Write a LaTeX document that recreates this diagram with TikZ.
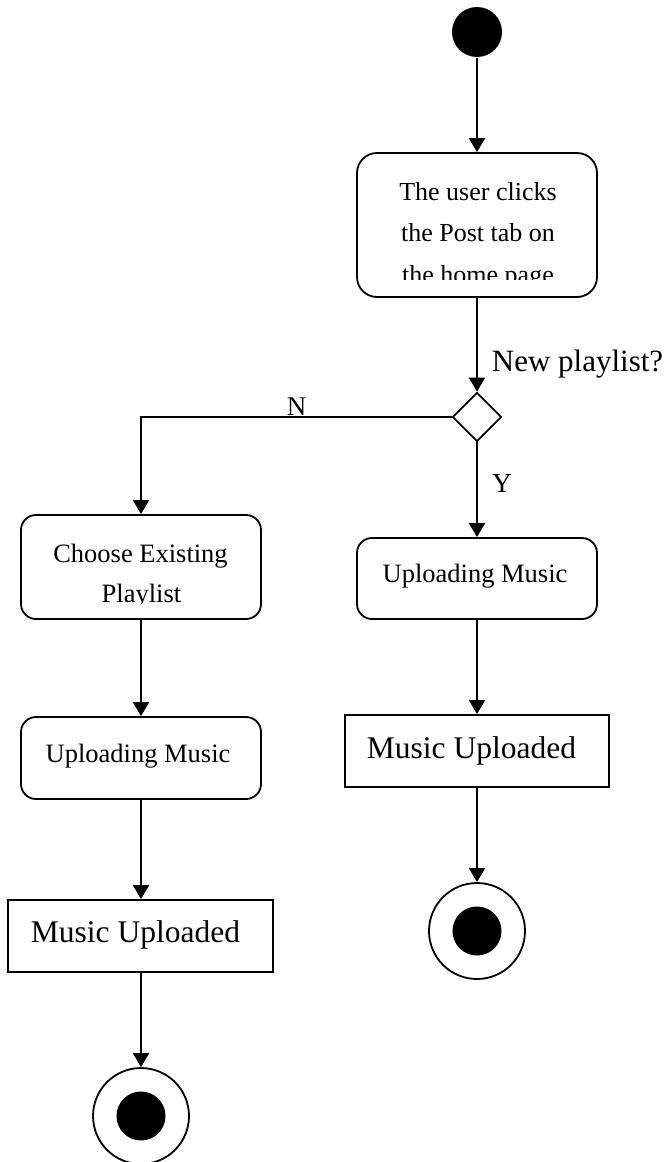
\documentclass[tikz,border=0pt]{standalone}
\usepackage{fontspec}
\setmainfont{Liberation Serif}
\usetikzlibrary{arrows.meta,shapes.geometric}
\begin{document}
\begin{tikzpicture}[x=1pt,y=-1pt,
  line width=1.8pt,
  flow/.style={-{Triangle[length=14pt,width=16pt]}},
  activity/.style={draw,rounded corners=#1,inner sep=0pt,minimum width=240pt},
  result/.style={draw,inner sep=0pt,minimum height=72pt},
  txt/.style={anchor=base,inner sep=0pt,font=\fontsize{#1}{#1}\selectfont},
  txt/.default=26.5,
  startdot/.style={circle,fill=black,inner sep=0pt,minimum size=50pt},
  endring/.style={circle,draw,fill=white,inner sep=0pt,minimum size=96pt},
  enddot/.style={circle,fill=black,inner sep=0pt,minimum size=49pt},
  choice/.style={diamond,draw,inner sep=0pt,minimum width=49pt,minimum height=49pt}]
\useasboundingbox (0,0) rectangle (672,1162);

% initial node
\node[startdot] (start) at (477,32) {};

% activities and results
\node[activity=20pt,minimum height=144pt] (post) at (477,225) {};
\node[choice] (newpl) at (477,417) {};
\node[activity=15pt,minimum height=104pt] (choose) at (141,567) {};
\node[activity=15pt,minimum height=81pt] (uploadR) at (477,578.5) {};
\node[result,minimum width=264pt] (doneR) at (477,751) {};
\node[activity=15pt,minimum height=82pt] (uploadL) at (141,758) {};
\node[result,minimum width=265pt] (doneL) at (140.5,936) {};

% final nodes
\node[endring] (endR) at (477,931) {};
\node[enddot] (endRdot) at (endR) {};
\node[endring] (endL) at (141,1116) {};
\node[enddot] (endLdot) at (endL) {};

% texts inside the boxes (overflowing lines are cut at the box edge)
\begin{scope}
  \clip (357,153) rectangle (597,279.5);
  \node[txt=26] (postA) at (478,200) {The user clicks};
  \node[txt=26] (postB) at (478,241.5) {the Post tab on};
  \node[txt=26] (postC) at (478,283) {the home page};
\end{scope}
\begin{scope}
  \clip (21,515) rectangle (261,603);
  \node[txt] (chooseA) at (140.5,562) {Choose Existing};
  \node[txt] (chooseB) at (141.5,602) {Playlist};
\end{scope}
\node[txt] (uploadRt) at (475,582) {Uploading Music};
\node[txt] (uploadLt) at (138,762) {Uploading Music};
\node[txt=31.5] (doneRt) at (471.5,758) {Music Uploaded};
\node[txt=31.5] (doneLt) at (135.5,942) {Music Uploaded};

% guard and branch labels
\node[txt=31,anchor=base west] (question) at (491,371) {New playlist?};
\node[txt=27] (no) at (296.5,415) {N};
\node[txt=27.5] (yes) at (502,492) {Y};

% control flow
\draw[flow] (start) -- (post);
\draw[flow] (post) -- (newpl);
\draw[flow] (newpl.west) -| (choose.north);
\draw[flow] (newpl) -- (uploadR);
\draw[flow] (choose) -- (uploadL);
\draw[flow] (uploadR) -- (doneR);
\draw[flow] (uploadL) -- (doneL.north -| uploadL);
\draw[flow] (doneR) -- (endR);
\draw[flow] (doneL.south -| uploadL) -- (endL);
\end{tikzpicture}
\end{document}
